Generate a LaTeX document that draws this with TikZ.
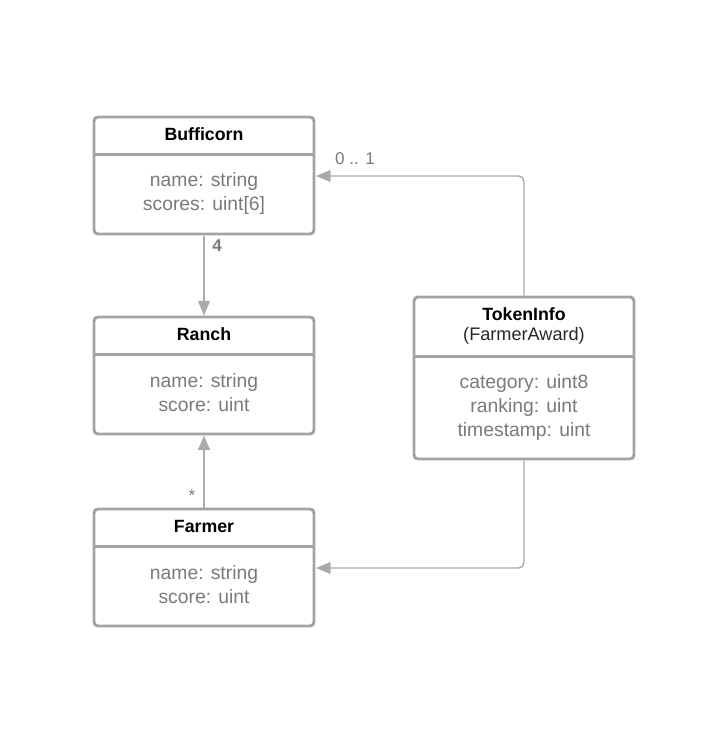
\documentclass[tikz,border=0pt]{standalone}
\usepackage{fontspec}
\setmainfont{Liberation Sans}
\usetikzlibrary{arrows.meta}
\definecolor{boxgray}{HTML}{A3A3A3}
\definecolor{linegray}{HTML}{ABABAB}
\definecolor{txtgray}{HTML}{7A7A7A}
\tikzset{
  classbox/.style={draw=boxgray, line width=2.2pt, rounded corners=3pt, fill=white},
  divider/.style={draw=boxgray, line width=2.2pt},
  ttl/.style={font=\fontsize{13.3}{15}\selectfont\bfseries, text=black, align=center},
  sub/.style={font=\fontsize{13.6}{15}\selectfont, text=black!85, align=center},
  attr/.style={font=\fontsize{14.5}{18}\selectfont, text=txtgray, align=center},
  conn/.style={draw=linegray, line width=1.1pt, -{Triangle[length=11pt,width=9pt]}, rounded corners=4pt},
  mult/.style={font=\fontsize{12.8}{15}\selectfont, text=txtgray},
}
\begin{document}
\begin{tikzpicture}[x=0.75pt,y=-0.75pt]
\useasboundingbox (0,0) rectangle (725,733);
% Bufficorn
\draw[classbox] (94,117) rectangle (314,234);
\draw[divider] (94,154.5) -- (314,154.5);
\node[ttl] (bt) at (204,134) {Bufficorn};
\node[attr] (ba) at (204,193) {name: string\\scores: uint[6]};
\coordinate (bN) at (204,117);
\coordinate (bS) at (204,235.5);
\coordinate (bE) at (316,176);
% Ranch
\draw[classbox] (94,317) rectangle (314,434);
\draw[divider] (94,354.5) -- (314,354.5);
\node[ttl] (rt) at (204,334) {Ranch};
\node[attr] (ra) at (204,393) {name: string\\score: uint};
\coordinate (rN) at (204,315.5);
\coordinate (rS) at (204,435.5);
% Farmer
\draw[classbox] (94,509) rectangle (314,626);
\draw[divider] (94,546.5) -- (314,546.5);
\node[ttl] (ft) at (204,526) {Farmer};
\node[attr] (fa) at (204,585) {name: string\\score: uint};
\coordinate (fN) at (204,507.5);
\coordinate (fE) at (316,568);
% TokenInfo
\draw[classbox] (414,297) rectangle (634,459);
\draw[divider] (414,356.5) -- (634,356.5);
\node[ttl] (tt) at (524,314) {TokenInfo};
\node[sub] (ts) at (524,336) {(FarmerAward)};
\node[attr] (ta) at (524,407) {category: uint8\\ranking: uint\\timestamp: uint};
\coordinate (tN) at (524,295.5);
\coordinate (tS) at (524,460.5);
% connectors
\draw[conn] (bS) -- (rN);
\draw[conn] (fN) -- (rS);
\draw[conn] (tN) -- (524,176) -- (bE);
\draw[conn] (tS) -- (524,568) -- (fE);
% multiplicities
\node[mult, font=\fontsize{12.8}{15}\selectfont\bfseries] (m4) at (217,246) {4};
\node[mult] (ms) at (192,496) {*};
\node[mult] (m01) at (355,159) {0 .. 1};
\end{tikzpicture}
\end{document}
